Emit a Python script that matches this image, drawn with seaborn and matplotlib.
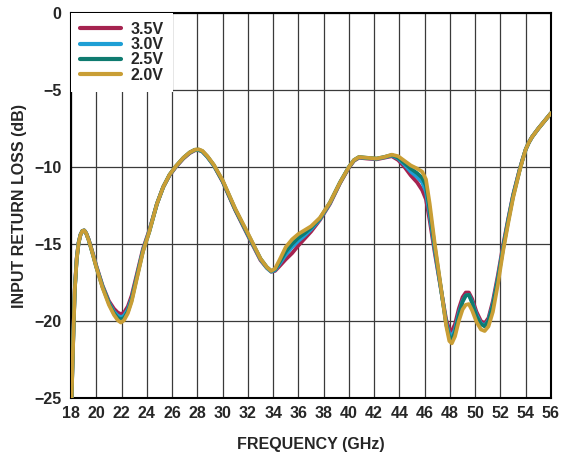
import numpy as np
import pandas as pd
import matplotlib
matplotlib.use("Agg")
import matplotlib.pyplot as plt
import seaborn as sns

freq = [18.05, 18.1, 18.2, 18.3, 18.45, 18.6, 18.75, 18.9, 19.05, 19.2,
        19.4, 19.6, 19.8, 20.0, 20.5, 21.0, 21.4, 21.7, 21.95, 22.2,
        22.5, 22.8, 23.2, 23.7, 24.2, 24.8, 25.3, 25.8, 26.3, 26.9,
        27.4, 27.8, 28.1, 28.4, 28.8, 29.3, 30.0, 31.0, 32.0, 33.0,
        33.5, 33.85, 34.15, 34.5, 35.0, 35.5, 36.0, 36.5, 37.0, 37.7,
        38.5, 39.3, 40.0, 40.4, 40.8, 41.4, 42.2, 42.8, 43.4, 43.9,
        44.4, 44.9, 45.4, 45.8, 46.1, 46.4, 46.8, 47.3, 47.7, 47.95,
        48.15, 48.4, 48.7, 49.0, 49.25, 49.5, 49.75, 50.1, 50.45, 50.75,
        51.05, 51.4, 51.8, 52.2, 52.6, 53.0, 53.5, 53.75, 54.0, 54.25,
        54.5, 55.0, 55.5, 56.0]

v35 = [-25.0, -23.3, -20.4, -17.9, -15.9, -14.9, -14.4, -14.15, -14.12, -14.3,
       -14.7, -15.25, -15.8, -16.4, -17.7, -18.7, -19.2, -19.45, -19.55, -19.45,
       -19.05, -18.35, -17.0, -15.3, -14.1, -12.4, -11.3, -10.55, -10.0, -9.45,
       -9.1, -8.92, -8.9, -9.0, -9.35, -9.9, -10.95, -12.8, -14.45, -16.05,
       -16.55, -16.8, -16.75, -16.45, -16.0, -15.6, -15.1, -14.65, -14.2, -13.45,
       -12.4, -11.05, -10.05, -9.6, -9.4, -9.45, -9.5, -9.4, -9.3, -9.55,
       -10.0, -10.55, -11.0, -11.5, -12.1, -13.5, -15.6, -18.0, -19.9, -20.55,
       -20.65, -20.2, -19.2, -18.45, -18.15, -18.15, -18.55, -19.4, -20.0, -20.15,
       -19.8, -18.7, -17.0, -15.1, -13.4, -11.8, -10.2, -9.5, -8.85, -8.4,
       -8.05, -7.5, -7.0, -6.5]

v30 = [-25.0, -23.4, -20.5, -17.95, -15.95, -14.92, -14.4, -14.15, -14.12, -14.3,
       -14.72, -15.3, -15.85, -16.45, -17.75, -18.8, -19.4, -19.65, -19.75, -19.65,
       -19.25, -18.55, -17.15, -15.4, -14.15, -12.4, -11.3, -10.52, -9.97, -9.42,
       -9.07, -8.9, -8.9, -9.0, -9.35, -9.9, -10.9, -12.75, -14.4, -16.0,
       -16.55, -16.8, -16.7, -16.3, -15.7, -15.2, -14.8, -14.45, -14.05, -13.4,
       -12.35, -11.0, -10.0, -9.57, -9.37, -9.42, -9.47, -9.37, -9.25, -9.45,
       -9.85, -10.3, -10.65, -11.0, -11.6, -13.1, -15.4, -18.0, -20.1, -20.85,
       -21.0, -20.55, -19.5, -18.7, -18.35, -18.3, -18.75, -19.6, -20.15, -20.3,
       -19.95, -18.9, -17.2, -15.25, -13.5, -11.85, -10.25, -9.52, -8.85, -8.4,
       -8.05, -7.5, -7.0, -6.5]

v25 = [-25.0, -23.45, -20.55, -18.0, -16.0, -14.95, -14.4, -14.15, -14.12, -14.3,
       -14.75, -15.3, -15.9, -16.5, -17.8, -18.85, -19.5, -19.8, -19.9, -19.8,
       -19.4, -18.65, -17.2, -15.45, -14.2, -12.4, -11.3, -10.5, -9.95, -9.4,
       -9.05, -8.88, -8.87, -8.97, -9.32, -9.87, -10.9, -12.75, -14.35, -15.95,
       -16.5, -16.75, -16.65, -16.2, -15.5, -15.0, -14.6, -14.3, -13.95, -13.35,
       -12.3, -11.0, -10.0, -9.55, -9.35, -9.4, -9.45, -9.35, -9.22, -9.4,
       -9.75, -10.1, -10.4, -10.7, -11.2, -12.8, -15.2, -17.95, -20.2, -21.05,
       -21.2, -20.75, -19.65, -18.75, -18.35, -18.3, -18.8, -19.7, -20.2, -20.35,
       -20.0, -19.0, -17.3, -15.35, -13.55, -11.9, -10.25, -9.52, -8.85, -8.4,
       -8.05, -7.5, -7.0, -6.5]

v20 = [-25.0, -23.5, -20.6, -18.0, -16.0, -14.95, -14.4, -14.15, -14.12, -14.3,
       -14.75, -15.3, -15.9, -16.5, -17.85, -18.95, -19.6, -19.95, -20.1, -19.95,
       -19.5, -18.75, -17.3, -15.5, -14.2, -12.4, -11.3, -10.5, -9.95, -9.4,
       -9.05, -8.88, -8.85, -8.95, -9.3, -9.85, -10.85, -12.7, -14.3, -15.95,
       -16.5, -16.75, -16.6, -16.05, -15.2, -14.7, -14.35, -14.1, -13.85, -13.3,
       -12.3, -11.0, -10.0, -9.55, -9.35, -9.4, -9.45, -9.35, -9.2, -9.3,
       -9.6, -9.9, -10.1, -10.3, -10.8, -12.4, -15.0, -17.9, -20.3, -21.3,
       -21.45, -21.0, -20.0, -19.25, -18.95, -18.9, -19.3, -20.05, -20.55, -20.65,
       -20.35, -19.4, -17.6, -15.5, -13.7, -12.0, -10.3, -9.55, -8.85, -8.4,
       -8.05, -7.5, -7.0, -6.5]

series_names = ["3.5V", "3.0V", "2.5V", "2.0V"]
series_values = [v35, v30, v25, v20]
colors = ["#A5234F", "#1E9FD5", "#0F7B70", "#C99E35"]

x_ticks = list(range(18, 57, 2))
y_ticks = [0, -5, -10, -15, -20, -25]
y_tick_labels = ["0", "\u22125", "\u221210", "\u221215", "\u221220", "\u221225"]

frames = []
for name, vals in zip(series_names, series_values):
    frames.append(pd.DataFrame({"freq": freq, "val": vals, "Voltage": name}))
df = pd.concat(frames, ignore_index=True)

sns.set_style("white")
plt.rcParams['font.family'] = ['Liberation Sans', 'DejaVu Sans']

fig = plt.figure(figsize=(5.66, 4.54), dpi=100)
ax = fig.add_axes([71/566, 1-398/454, (551-71)/566, (398-13)/454])

sns.lineplot(data=df, x="freq", y="val", hue="Voltage", hue_order=series_names,
             palette=dict(zip(series_names, colors)), estimator=None, sort=False,
             linewidth=2.7, ax=ax, zorder=3)
for ln in ax.get_lines():
    ln.set_solid_joinstyle("round")
    ln.set_solid_capstyle("round")

ax.set_xlim(18, 56)
ax.set_ylim(-25, 0)
ax.set_xticks(x_ticks)
ax.set_yticks(y_ticks)
ax.set_xticklabels([str(t) for t in x_ticks], fontsize=11.5, fontweight="bold")
ax.set_yticklabels(y_tick_labels, fontsize=11.5, fontweight="bold")
ax.tick_params(axis="x", length=0, pad=6)
ax.tick_params(axis="y", length=3, width=0.8, color="#888888", pad=4)

ax.grid(True, color="#3a3a3a", linewidth=0.9)
ax.set_axisbelow(True)
for s in ax.spines.values():
    s.set_color("black")
    s.set_linewidth(1.5)

ax.set_xlabel("FREQUENCY (GHz)", fontsize=11.5, fontweight="bold", labelpad=11)
ax.set_ylabel("INPUT RETURN LOSS (dB)", fontsize=11.5, fontweight="bold", labelpad=5)

leg = ax.legend(loc="upper left", frameon=True, fancybox=False, framealpha=1,
                edgecolor="none", facecolor="white", fontsize=11.5,
                handlelength=2.6, handletextpad=0.6, labelspacing=0.02,
                borderaxespad=0.0, borderpad=0.55)
for t in leg.get_texts():
    t.set_fontweight("bold")
for line in leg.get_lines():
    line.set_linewidth(3)
leg.set_zorder(5)

fig.savefig("out.png", dpi=100)
